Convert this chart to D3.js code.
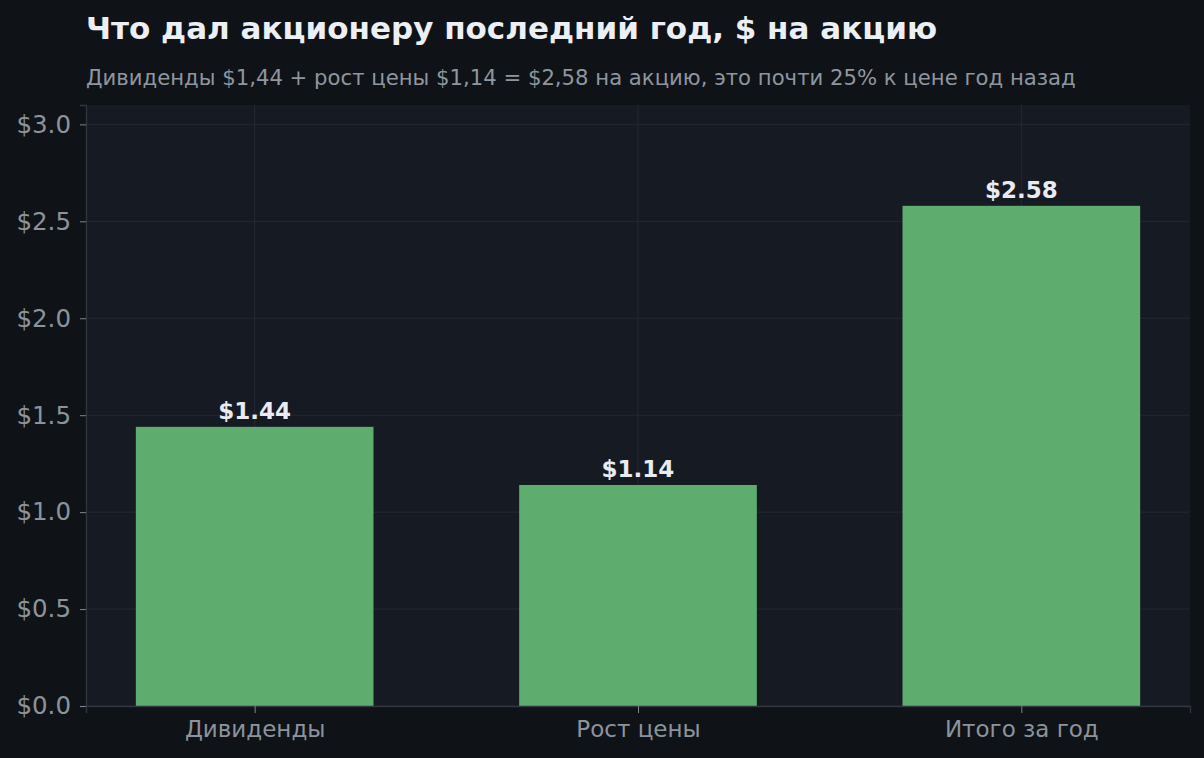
<!DOCTYPE html>
<html>
<head>
<meta charset="utf-8">
<script src="https://cdn.jsdelivr.net/npm/d3@7"></script>
<style>
  html, body { margin: 0; padding: 0; background: #0f1317; }
  svg { display: block; font-family: "DejaVu Sans", sans-serif; }
</style>
</head>
<body>
<div id="chart"></div>
<script>
// Data
const categories = ['Дивиденды', 'Рост цены', 'Итого за год'];
const values = [1.44, 1.14, 2.58];
const yTicks = [0, 0.5, 1.0, 1.5, 2.0, 2.5, 3.0];

const title = 'Что дал акционеру последний год, $ на акцию';
const subtitle = 'Дивиденды $1,44 + рост цены $1,14 = $2,58 на акцию, это почти 25% к цене год назад';

const width = 1204, height = 758;
const margin = {top: 105, right: 14, bottom: 52, left: 86};

const svg = d3.select('#chart')
    .append('svg')
    .attr('width', width)
    .attr('height', height);

svg.append('rect')
    .attr('width', width)
    .attr('height', height)
    .attr('fill', '#0f1317');

// x is a linear position scale, categories sit at 0, 1, 2
const x = d3.scaleLinear()
    .domain([-0.44, categories.length - 1 + 0.44])
    .range([margin.left, width - margin.right]);

const y = d3.scaleLinear()
    .domain([0, 3.1])
    .range([height - margin.bottom, margin.top]);

const barWidth = 0.62;

// plot background
svg.append('rect')
    .attr('x', x.range()[0])
    .attr('y', y.range()[1])
    .attr('width', x.range()[1] - x.range()[0])
    .attr('height', y.range()[0] - y.range()[1])
    .attr('fill', '#161a22');

// grid lines
svg.append('g')
    .selectAll('line')
    .data(yTicks)
    .join('line')
    .attr('x1', x.range()[0])
    .attr('x2', x.range()[1])
    .attr('y1', d => y(d))
    .attr('y2', d => y(d))
    .attr('stroke', '#242933')
    .attr('stroke-width', 1);

svg.append('g')
    .selectAll('line')
    .data(categories)
    .join('line')
    .attr('x1', (d, i) => x(i))
    .attr('x2', (d, i) => x(i))
    .attr('y1', y.range()[0])
    .attr('y2', y.range()[1])
    .attr('stroke', '#242933')
    .attr('stroke-width', 1);

// bars
svg.append('g')
    .selectAll('rect')
    .data(values)
    .join('rect')
    .attr('x', (d, i) => x(i - barWidth / 2))
    .attr('width', (d, i) => x(i + barWidth / 2) - x(i - barWidth / 2))
    .attr('y', d => y(d))
    .attr('height', d => y(0) - y(d))
    .attr('fill', '#5eac6e');

// value labels
svg.append('g')
    .selectAll('text')
    .data(values)
    .join('text')
    .attr('x', (d, i) => x(i))
    .attr('y', d => y(d) - 8)
    .attr('text-anchor', 'middle')
    .attr('fill', '#e8ebf1')
    .attr('font-weight', 'bold')
    .attr('font-size', 23)
    .text(d => '$' + d.toFixed(2));

// axes
const yAxis = svg.append('g')
    .attr('transform', `translate(${margin.left},0)`)
    .call(d3.axisLeft(y).tickValues(yTicks).tickSize(6).tickPadding(9)
        .tickFormat(d => '$' + d.toFixed(1)));

const xAxis = svg.append('g')
    .attr('transform', `translate(0,${height - margin.bottom})`)
    .call(d3.axisBottom(x).tickValues(d3.range(categories.length)).tickSize(7).tickPadding(8)
        .tickFormat(i => categories[i]));

[yAxis, xAxis].forEach(a => {
    a.select('.domain').attr('stroke', '#30353f').attr('stroke-width', 1.3);
    a.selectAll('.tick line').attr('stroke', '#7d848e');
    a.selectAll('.tick text')
        .attr('fill', '#8c939c')
        .attr('font-size', 24.5)
        .attr('font-family', '"DejaVu Sans", sans-serif');
});
xAxis.selectAll('.tick text').attr('font-size', 23);

// titles
svg.append('text')
    .attr('x', 86)
    .attr('y', 39)
    .attr('fill', '#eceff4')
    .attr('font-weight', 'bold')
    .attr('font-size', 31)
    .text(title);

svg.append('text')
    .attr('x', 86)
    .attr('y', 85)
    .attr('fill', '#8f969f')
    .attr('font-size', 21.2)
    .text(subtitle);
</script>
</body>
</html>
